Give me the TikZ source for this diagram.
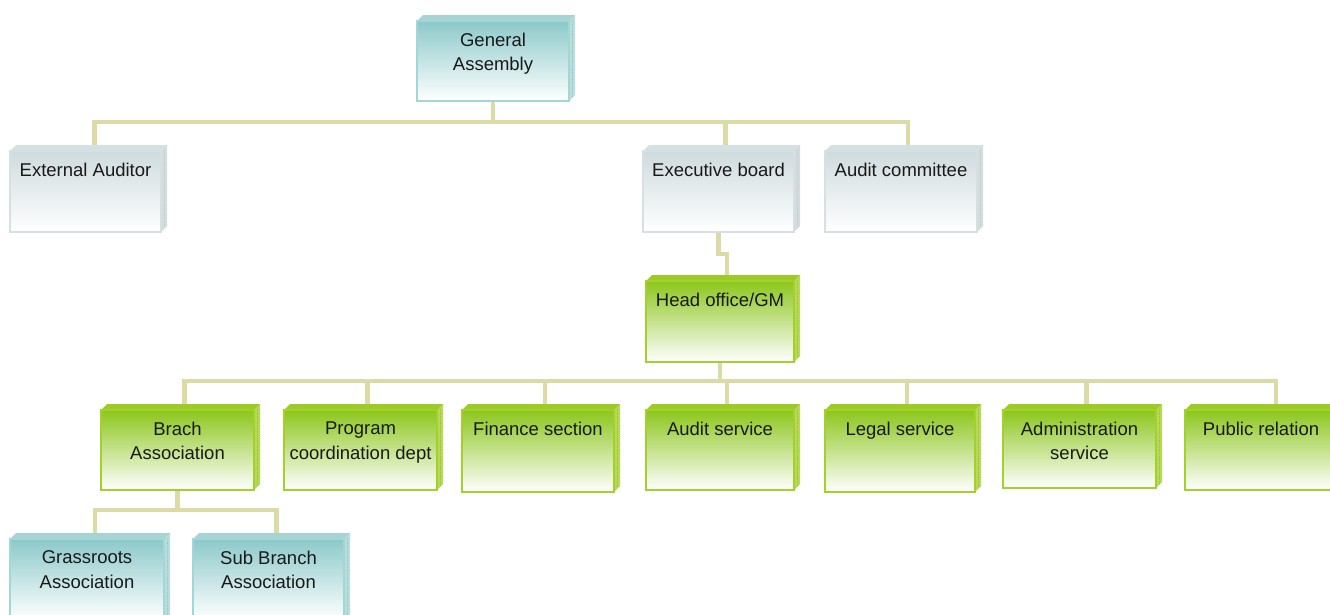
\documentclass[tikz,border=0pt]{standalone}
\usepackage{fontspec}
\setmainfont{Liberation Sans}
\usetikzlibrary{calc,backgrounds}
\definecolor{connc}{HTML}{DCDBA6}
\definecolor{tealtop}{HTML}{8CC9CA}
\definecolor{tealline}{HTML}{A3D7D7}
\definecolor{tealside}{HTML}{B9DDDD}
\definecolor{tealcap}{HTML}{A6D3D3}
\definecolor{greentop}{HTML}{8CC61C}
\definecolor{greenline}{HTML}{A3D12A}
\definecolor{greenside}{HTML}{B6DA58}
\definecolor{greencap}{HTML}{9CCB25}
\definecolor{graytop}{HTML}{CFDBDE}
\definecolor{grayline}{HTML}{D6E0E2}
\definecolor{grayside}{HTML}{D3DBDD}
\definecolor{graycap}{HTML}{D6DFE1}
\tikzset{
  x=1pt, y=-1pt,
  face/.style={draw=#1line, line width=1.6pt, top color=#1top, middle color=#1top!40!white, bottom color=white, inner sep=0pt},
  lbl/.style={font=\fontsize{18.5}{24.5}\selectfont, align=center, anchor=north, inner sep=0pt, text=black!90},
  conn/.style={draw=connc, line width=4.5pt},
}
\newcommand\obox[7]{%
  \pgfmathsetmacro\bxw{#4-#2-6}\pgfmathsetmacro\bxh{#5-#3-6}%
  \pgfmathsetmacro\bxc{(#2+#4-6)/2}\pgfmathsetmacro\byc{(#3+6+#5)/2}%
  \fill[#6side] (#4-6,#3+6) -- (#4,#3) -- (#4,#5-6) -- (#4-6,#5) -- cycle;
  \draw[#6line!80!gray, densely dotted, line width=0.8pt] (#4-3,#3+5) -- (#4-3,#5-5);
  \fill[#6cap] (#2,#3+6) -- (#2+6,#3) -- (#4,#3) -- (#4-6,#3+6) -- cycle;
  \node[face=#6, minimum width=\bxw pt, minimum height=\bxh pt] (#1) at (\bxc,\byc) {};
  \node[lbl] (#1t) at ([yshift=-12.5pt]#1.north) {#7};
}
\begin{document}
\begin{tikzpicture}
\useasboundingbox (0,0) rectangle (1330,614);
\clip (0,0) rectangle (1330,614);
\obox{ga}{417}{15}{575}{101}{teal}{General\\Assembly}
\obox{ea}{10}{145}{167}{232}{gray}{External Auditor}
\obox{eb}{643}{145}{800}{232}{gray}{Executive board}
\obox{ac}{825}{145}{983}{232}{gray}{Audit committee}
\obox{ho}{646}{275}{800}{362}{green}{Head office/GM}
\obox{ba}{101}{404}{260}{490}{green}{Brach\\Association}
\obox{pc}{284}{404}{443}{490}{green}{Program\\coordination dept}
\obox{fs}{462}{404}{620}{492}{green}{Finance section}
\obox{as}{646}{404}{800}{490}{green}{Audit service}
\obox{ls}{825}{404}{981}{492}{green}{Legal service}
\obox{ad}{1003}{404}{1162}{488}{green}{Administration\\service}
\obox{pr}{1185}{404}{1343}{490}{green}{Public relation}
\obox{gr}{10}{533}{170}{620}{teal}{Grassroots\\Association}
\obox{sb}{193}{533}{350}{620}{teal}{Sub Branch\\Association}
\begin{scope}[on background layer]
\coordinate (bus1) at (491,122);
\coordinate (bus2) at (718,381);
\coordinate (bus3) at (177,510);
\draw[conn] (ga.south) -- (ga.south |- bus1);
\draw[conn] ([xshift=9pt]ea.north) |- (bus1) -| ([xshift=7pt]ac.north);
\draw[conn] ([xshift=7pt]eb.north |- bus1) -- ([xshift=7pt]eb.north);
\draw[conn] (eb.south) -- ++(0,21) -| ([xshift=7pt]ho.north);
\draw[conn] (ho.south) -- (ho.south |- bus2);
\draw[conn] ([xshift=7pt]ba.north) |- (bus2) -| ([xshift=15pt]pr.north);
\foreach \n in {pc,fs,as,ls,ad}{
  \draw[conn] ([xshift=7pt]\n.north |- bus2) -- ([xshift=7pt]\n.north);
}
\draw[conn] (ba.south) -- (ba.south |- bus3);
\draw[conn] ([xshift=8pt]gr.north) |- (bus3) -| ([xshift=8pt]sb.north);
\end{scope}
\end{tikzpicture}
\end{document}
